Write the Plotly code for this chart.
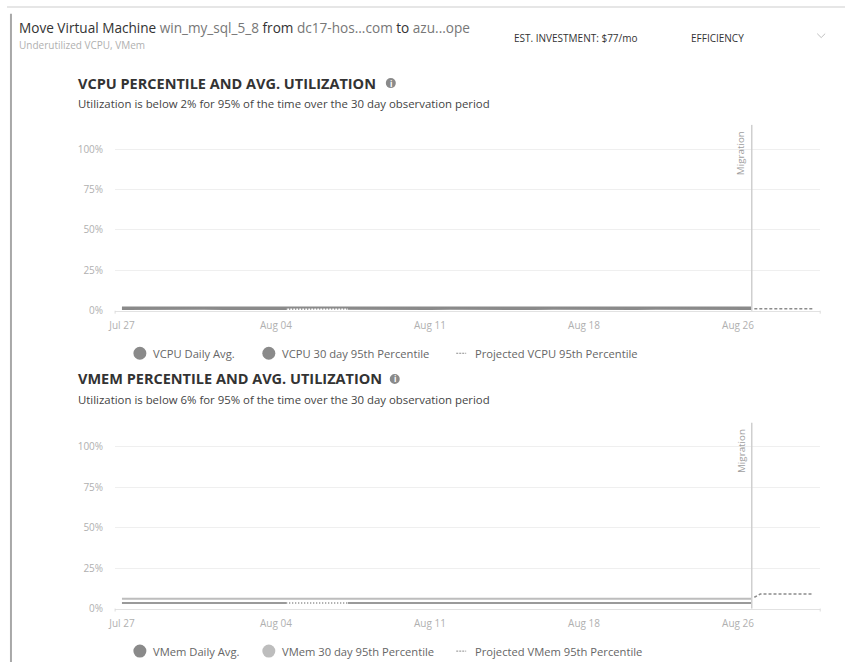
import plotly.graph_objects as go
import pandas as pd

W, H = 845, 669

# ---------------- data ----------------
days = [d.strftime("%Y-%m-%d") for d in pd.date_range("2023-07-27", "2023-08-26", freq="D")]
migration_time = "2023-08-26 16:00"
dates = days + [migration_time]

vcpu_avg = [1.1, 1.2, 1.1, 1.0, 1.2, 1.1, 1.1, 1.2, 1.1, None, None, 1.2, 1.1, 1.2, 1.1, 1.1,
            1.2, 1.1, 1.2, 1.1, 1.1, 1.2, 1.1, 1.1, 1.2, 1.1, 1.2, 1.1, 1.1, 1.2, 1.1, 1.1]
vcpu_p95 = [2.0] * len(dates)
vmem_avg = [3.4, 3.5, 3.4, 3.3, 3.4, 3.5, 3.4, 3.4, 3.5, None, None, 3.4, 3.5, 3.4, 3.4, 3.5,
            3.4, 3.4, 3.5, 3.4, 3.4, 3.5, 3.4, 3.4, 3.5, 3.4, 3.4, 3.5, 3.4, 3.4, 3.5, 3.5]
vmem_p95 = [6.1] * len(dates)

proj_dates = ["2023-08-26 19:00", "2023-08-27 02:00", "2023-08-29 16:00"]
vcpu_proj = [1.2, 1.2, 1.2]
vmem_proj = [7.0, 9.0, 9.0]

gap_idx = (8, 11)  # dotted stretch where daily data is missing

tick_vals = ["2023-07-27", "2023-08-03 12:00", "2023-08-11", "2023-08-18 12:00", "2023-08-26"]
tick_text = ["Jul 27", "Aug 04", "Aug 11", "Aug 18", "Aug 26"]
y_ticks = [0, 25, 50, 75, 100]
y_text = ["0%", "25%", "50%", "75%", "100%"]

x_range = ["2023-07-26 16:00", "2023-08-30 00:00"]
y_range = [0, 115]

# ---------------- helpers ----------------
def px(x):
    return x / W

def py(y):
    return 1 - y / H

FONT = "Open Sans"
fig = go.Figure()

def add_chart(xa, ya, avg, p95, proj, avg_col, p95_col):
    fig.add_trace(go.Scatter(x=dates, y=p95, mode="lines", xaxis=xa, yaxis=ya,
                             line=dict(color=p95_col, width=2), showlegend=False, hoverinfo="skip"))
    fig.add_trace(go.Scatter(x=dates, y=avg, mode="lines", xaxis=xa, yaxis=ya,
                             line=dict(color=avg_col, width=2), showlegend=False, hoverinfo="skip"))
    a, b = gap_idx
    fig.add_trace(go.Scatter(x=[dates[a], dates[b]], y=[avg[a], avg[b]], mode="lines",
                             xaxis=xa, yaxis=ya, line=dict(color=avg_col, width=2, dash="1px,2px"),
                             showlegend=False, hoverinfo="skip"))
    fig.add_trace(go.Scatter(x=proj_dates, y=proj, mode="lines", xaxis=xa, yaxis=ya,
                             line=dict(color="#8c8c8c", width=1.5, dash="3px,2px"),
                             showlegend=False, hoverinfo="skip"))

add_chart("x", "y", vcpu_avg, vcpu_p95, vcpu_proj, "#8a8a8a", "#8a8a8a")
add_chart("x2", "y2", vmem_avg, vmem_p95, vmem_proj, "#9a9a9a", "#bdbdbd")

axis_x = dict(type="date", range=x_range, tickvals=tick_vals, ticktext=tick_text,
              showgrid=False, zeroline=False, showline=True, linecolor="#e2e2e2", linewidth=1,
              ticks="", tickfont=dict(family=FONT, size=10, color="#b0b0b0"),
              ticklabelstandoff=5, fixedrange=True)
axis_y = dict(range=y_range, tickvals=y_ticks, ticktext=y_text, showgrid=True,
              gridcolor="#efefef", gridwidth=1, zeroline=False, showline=False, ticks="",
              tickfont=dict(family=FONT, size=10, color="#b0b0b0"), ticklabelstandoff=11,
              fixedrange=True)

xdom = [px(109), px(820)]
fig.update_layout(
    width=W, height=H, margin=dict(l=0, r=0, t=0, b=0),
    paper_bgcolor="white", plot_bgcolor="white",
    font=dict(family=FONT),
    showlegend=False,
    xaxis=dict(axis_x, domain=xdom, anchor="y"),
    yaxis=dict(axis_y, domain=[py(314), py(126.2)], anchor="x"),
    xaxis2=dict(axis_x, domain=xdom, anchor="y2"),
    yaxis2=dict(axis_y, domain=[py(615), py(427.2)], anchor="x2"),
)

shapes = []
annotations = []

# migration markers
for xr, yr in (("x", "y"), ("x2", "y2")):
    shapes.append(dict(type="line", xref=xr, yref=yr + " domain", x0=migration_time, x1=migration_time,
                       y0=0, y1=1, line=dict(color="#cfcfcf", width=1.5)))
    annotations.append(dict(xref=xr, yref=yr + " domain", x=migration_time, y=1, text="Migration",
                            textangle=-90, showarrow=False, xanchor="right", yanchor="top",
                            xshift=-2, yshift=-4,
                            font=dict(family=FONT, size=9.8, color="#a0a0a0")))

# axis end caps
for ybase in (314, 615):
    for xc in (109, 820):
        shapes.append(dict(type="line", xref="paper", yref="paper", x0=px(xc), x1=px(xc),
                           y0=py(ybase), y1=py(ybase + 3), line=dict(color="#dcdcdc", width=1)))

# card borders
shapes.append(dict(type="line", xref="paper", yref="paper", x0=0, x1=1, y0=py(7), y1=py(7),
                   line=dict(color="#e6e6e6", width=2)))
shapes.append(dict(type="line", xref="paper", yref="paper", x0=px(4), x1=px(4), y0=py(14), y1=0,
                   line=dict(color="#a8a8a8", width=2)))

# chevron
shapes.append(dict(type="path", xref="paper", yref="paper",
                   path=f"M {px(817)} {py(34)} L {px(821)} {py(38)} L {px(825)} {py(34)}",
                   line=dict(color="#c0c0c0", width=1)))

# header
annotations.append(dict(xref="paper", yref="paper", x=px(10), y=py(28), xanchor="left", yanchor="middle",
                        showarrow=False,
                        text=("<span style='color:#333'>Move Virtual Machine</span> "
                              "<span style='color:#777'>win_my_sql_5_8</span> "
                              "<span style='color:#333'>from</span> "
                              "<span style='color:#777'>dc17-hos...com</span> "
                              "<span style='color:#333'>to</span> "
                              "<span style='color:#777'>azu...ope</span>"),
                        font=dict(family=FONT, size=13.6)))
annotations.append(dict(xref="paper", yref="paper", x=px(10), y=py(45), xanchor="left", yanchor="middle",
                        showarrow=False, text="Underutilized VCPU, VMem",
                        font=dict(family=FONT, size=10, color="#b0b0b0")))
annotations.append(dict(xref="paper", yref="paper", x=px(509), y=py(38), xanchor="left", yanchor="middle",
                        showarrow=False, text="EST. INVESTMENT: $77/mo",
                        font=dict(family=FONT, size=10, color="#333")))
annotations.append(dict(xref="paper", yref="paper", x=px(688), y=py(38), xanchor="left", yanchor="middle",
                        showarrow=False, text="EFFICIENCY",
                        font=dict(family=FONT, size=10, color="#333")))

# section headings
sections = [
    (84, 105, "VCPU PERCENTILE AND AVG. UTILIZATION",
     "Utilization is below 2% for 95% of the time over the 30 day observation period"),
    (383, 404, "VMEM PERCENTILE AND AVG. UTILIZATION",
     "Utilization is below 6% for 95% of the time over the 30 day observation period"),
]
for hy, sy, head, sub in sections:
    annotations.append(dict(xref="paper", yref="paper", x=px(70), y=py(hy), xanchor="left", yanchor="middle",
                            showarrow=False, text="<b>" + head + "</b>",
                            font=dict(family=FONT, size=14.5, color="#333")))
    annotations.append(dict(xref="paper", yref="paper", x=px(70), y=py(sy), xanchor="left", yanchor="middle",
                            showarrow=False, text=sub,
                            font=dict(family=FONT, size=11.4, color="#444")))

# info icons
for hy, ix in ((84, 387), (383, 391)):
    shapes.append(dict(type="circle", xref="paper", yref="paper", xsizemode="pixel", ysizemode="pixel",
                       xanchor=px(ix), yanchor=py(hy), x0=-5, x1=5, y0=-5, y1=5,
                       fillcolor="#8a8a8a", line=dict(width=0)))
    annotations.append(dict(xref="paper", yref="paper", x=px(ix), y=py(hy), xanchor="center",
                            yanchor="middle", showarrow=False, text="<b>i</b>",
                            font=dict(family=FONT, size=8, color="white")))

# legends
legends = [
    (357, [("VCPU Daily Avg.", "#8a8a8a"), ("VCPU 30 day 95th Percentile", "#8a8a8a"),
           ("Projected VCPU 95th Percentile", None)]),
    (658, [("VMem Daily Avg.", "#8a8a8a"), ("VMem 30 day 95th Percentile", "#bdbdbd"),
           ("Projected VMem 95th Percentile", None)]),
]
legend_x = [(134, 145), (264, 275), (458, 470)]
for ly, items in legends:
    for (label, col), (sx, tx) in zip(items, legend_x):
        if col:
            shapes.append(dict(type="circle", xref="paper", yref="paper", xsizemode="pixel",
                               ysizemode="pixel", xanchor=px(sx), yanchor=py(ly), x0=-6.5, x1=6.5,
                               y0=-6.5, y1=6.5, fillcolor=col, line=dict(width=0)))
        else:
            shapes.append(dict(type="line", xref="paper", yref="paper", x0=px(sx - 5), x1=px(sx + 5),
                               y0=py(ly), y1=py(ly), line=dict(color="#8c8c8c", width=1, dash="2px,1px")))
        annotations.append(dict(xref="paper", yref="paper", x=px(tx), y=py(ly), xanchor="left",
                                yanchor="middle", showarrow=False, text=label,
                                font=dict(family=FONT, size=11.2, color="#666")))

fig.update_layout(shapes=shapes, annotations=annotations)
fig.write_html("out.html", config={"displayModeBar": False},
               post_script="document.body.style.margin='0';document.body.style.padding='0';")
